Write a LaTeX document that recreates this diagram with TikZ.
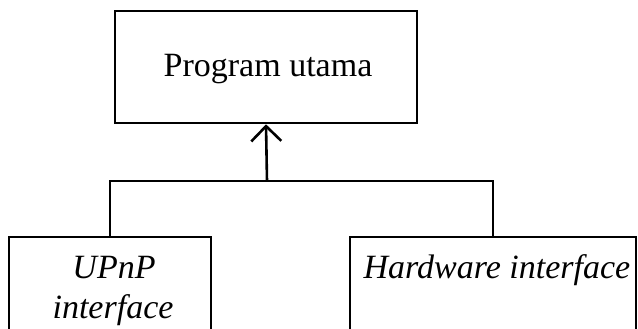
\documentclass[tikz,border=0pt]{standalone}
\usepackage{fontspec}
\setmainfont{Liberation Serif}
\usetikzlibrary{arrows.meta}
\begin{document}
\begin{tikzpicture}[x=1pt,y=-1pt,
  module/.style={draw=black, line width=2.6pt, fill=white, rectangle, inner sep=0pt},
  label/.style={inner sep=0pt, anchor=base, font=\fontsize{34}{40}\selectfont},
  link/.style={line width=2.6pt},
  calls/.style={line width=2.6pt, -{Straight Barb[length=15pt,width=30pt,line width=2.6pt]}}]
  \clip (0,0) rectangle (638,329);
  \fill[white] (0,0) rectangle (638,329);

  % main program module
  \node[module, minimum width=302pt, minimum height=112pt] (top) at (266,67) {};
  \node[label, anchor=center] (toptext) at (268,69) {Program utama};

  % sub-modules (bottom edges run past the page)
  \node[module, minimum width=202pt, minimum height=120pt] (lb) at (110,297) {};
  \node[module, minimum width=286pt, minimum height=120pt] (rb) at (493,297) {};
  \node[label] (lbtext1) at (114,278) {\itshape UPnP};
  \node[label] (lbtext2) at (113,318) {\itshape interface};
  \node[label] (rbtext) at (497,278) {\itshape Hardware interface};

  % connectors
  \coordinate (bar) at (267,181);
  \draw[link] (lb.north) |- (bar) -| (rb.north);
  \draw[calls] (bar) -- (top.south);
\end{tikzpicture}
\end{document}
